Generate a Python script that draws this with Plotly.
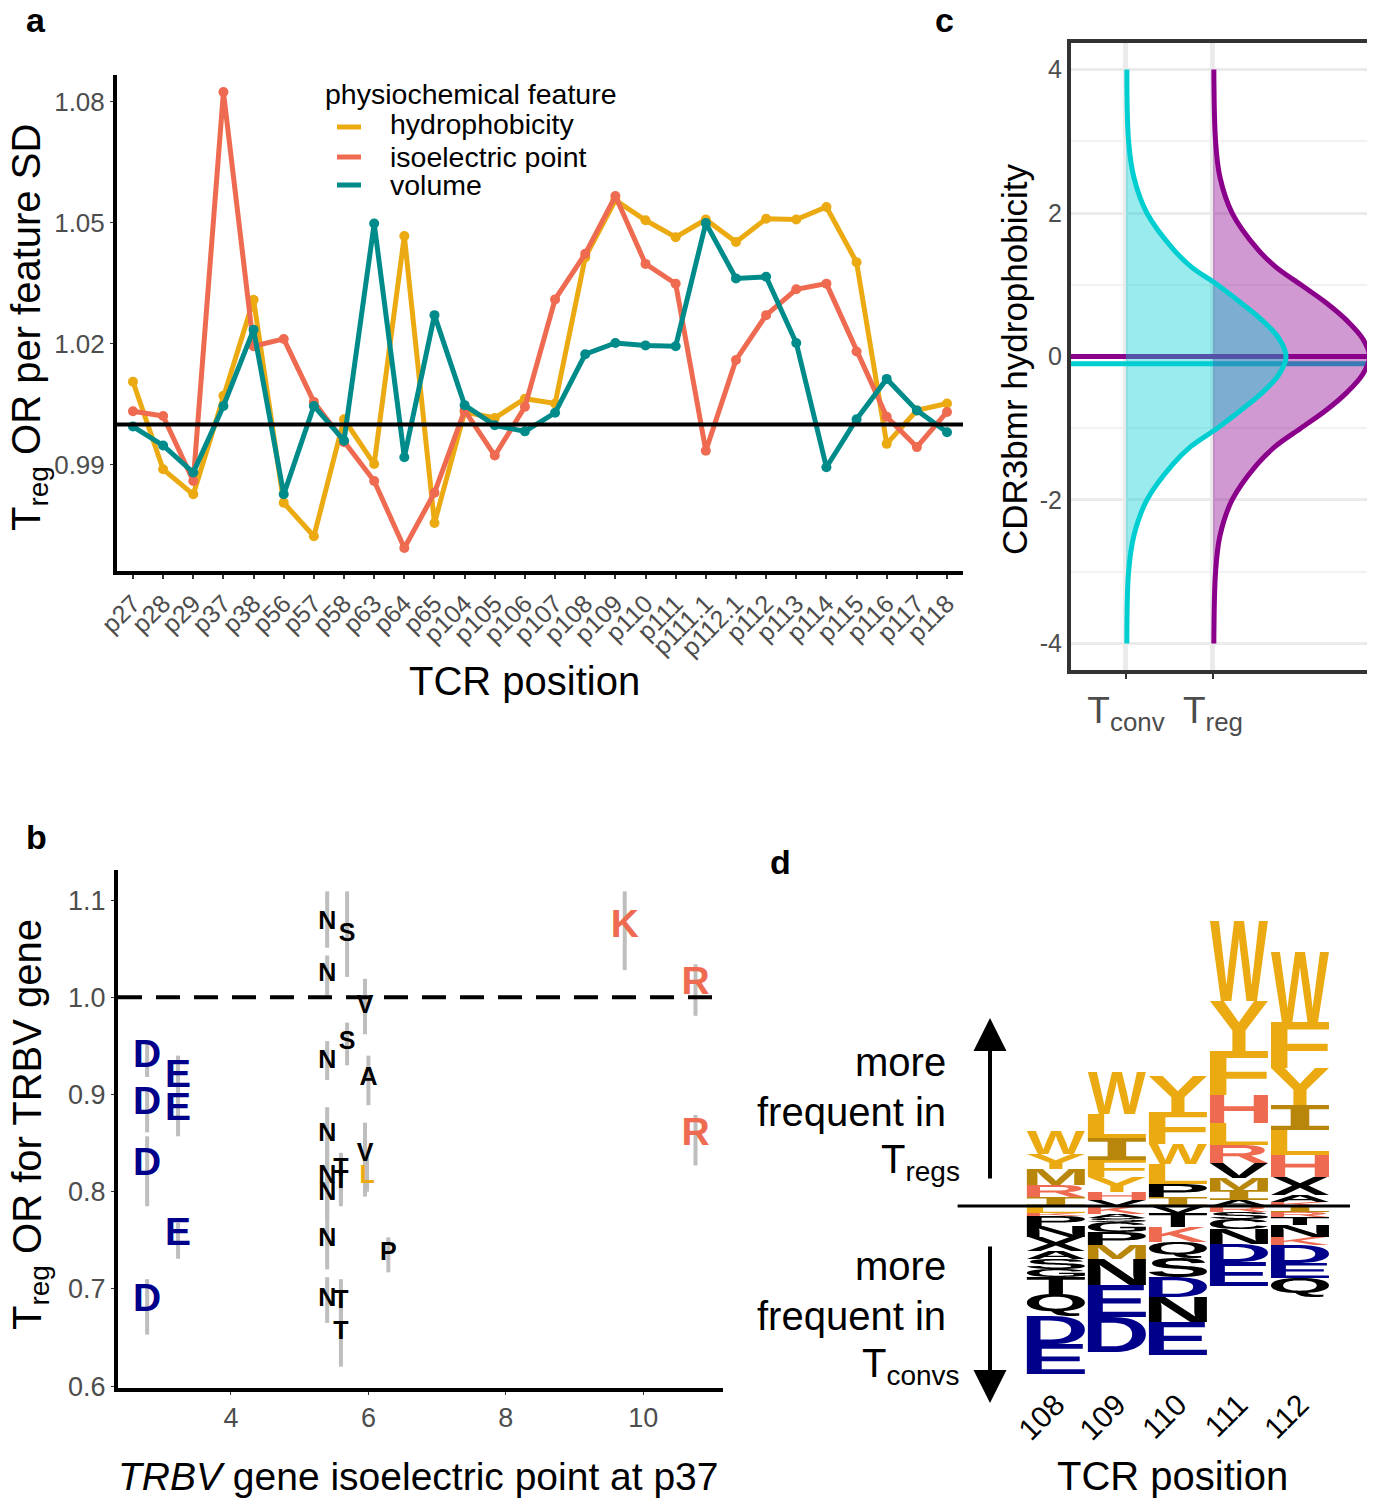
import glob
import struct

import numpy as np
import plotly.graph_objects as go

FONT = "Liberation Sans, Arial, sans-serif"
GRAY = "#4d4d4d"
YEL, RED, TEAL = "#EBAA12", "#EE6A50", "#008B8B"
GOLD, NAVY = "#B8860B", "#00008B"
CYAN, PURPLE = "#00CED1", "#8B008B"

# ---- panel a: OR per feature SD along TCR positions
positions = ["p27", "p28", "p29", "p37", "p38", "p56", "p57", "p58", "p63", "p64",
             "p65", "p104", "p105", "p106", "p107", "p108", "p109", "p110", "p111",
             "p111.1", "p112.1", "p112", "p113", "p114", "p115", "p116", "p117", "p118"]
hydrophobicity = [1.0106, 0.9889, 0.9827, 1.0071, 1.0309, 0.9806, 0.9723, 1.0013, 0.9902,
                  1.0467, 0.9756, 1.0031, 1.0016, 1.0064, 1.0052, 1.0414, 1.0556, 1.0506,
                  1.0464, 1.0508, 1.0452, 1.0510, 1.0508, 1.0539, 1.0402, 0.9952, 1.0035,
                  1.0052]
isoelectric = [1.0033, 1.0021, 0.9860, 1.0824, 1.0194, 1.0212, 1.0056, 0.9956, 0.9860,
               0.9694, 0.9831, 1.0035, 0.9923, 1.0044, 1.0310, 1.0423, 1.0566, 1.0398,
               1.0349, 0.9935, 1.0160, 1.0271, 1.0335, 1.0349, 1.0181, 1.0019, 0.9944,
               1.0031]
volume = [0.9995, 0.9948, 0.9881, 1.0046, 1.0235, 0.9827, 1.0046, 0.9960, 1.0498, 0.9919,
          1.0271, 1.0048, 0.9998, 0.9983, 1.0029, 1.0174, 1.0202, 1.0196, 1.0194, 1.0499,
          1.0362, 1.0366, 1.0202, 0.9894, 1.0013, 1.0113, 1.0035, 0.9981]
features = ["hydrophobicity", "isoelectric point", "volume"]

# ---- panel b: TRBV gene OR vs isoelectric point at p37
b_residue = ["D", "D", "D", "D", "E", "E", "E",
             "N", "N", "N", "N", "N", "N", "N", "N",
             "S", "S", "V", "V", "A", "L", "T", "T", "T", "T", "P", "K", "R", "R"]
b_pi = [2.78, 2.78, 2.78, 2.78, 3.23, 3.23, 3.23,
        5.40, 5.40, 5.40, 5.40, 5.40, 5.40, 5.40, 5.40,
        5.69, 5.69, 5.95, 5.95, 6.00, 5.98, 5.60, 5.60, 5.60, 5.60, 6.29, 9.73, 10.76, 10.76]
b_or = [0.938, 0.890, 0.827, 0.687, 0.918, 0.884, 0.755,
        1.077, 1.023, 0.934, 0.859, 0.815, 0.798, 0.751, 0.689,
        1.064, 0.953, 0.990, 0.838, 0.916, 0.815, 0.823, 0.810, 0.687, 0.655, 0.736, 1.072,
        1.013, 0.858]
b_lo = [0.918, 0.861, 0.785, 0.653, 0.896, 0.857, 0.731,
        1.051, 1.002, 0.915, 0.827, 0.780, 0.770, 0.720, 0.665,
        1.021, 0.930, 0.962, 0.795, 0.889, 0.800, 0.790, 0.785, 0.660, 0.620, 0.717, 1.028,
        0.981, 0.827]
b_hi = [0.953, 0.906, 0.857, 0.710, 0.940, 0.904, 0.768,
        1.109, 1.043, 0.955, 0.887, 0.850, 0.830, 0.790, 0.712,
        1.109, 0.974, 1.019, 0.871, 0.940, 0.835, 0.840, 0.830, 0.710, 0.690, 0.753, 1.109,
        1.034, 0.879]

# ---- panel c: CDR3bmr hydrophobicity densities
hyd_levels = [-4, -3, -2.5, -2, -1.5, -1.25, -1, -0.75, -0.5, -0.25, 0,
              0.25, 0.5, 0.75, 1, 1.25, 1.5, 2, 2.5, 3, 4]
conv_density = [0.01, 0.03, 0.09, 0.24, 0.54, 0.75, 1.05, 1.32, 1.57, 1.76, 1.84,
                1.76, 1.57, 1.32, 1.05, 0.75, 0.54, 0.24, 0.09, 0.03, 0.01]
treg_density = [0.01, 0.03, 0.08, 0.22, 0.51, 0.72, 1.01, 1.30, 1.54, 1.72, 1.80,
                1.72, 1.54, 1.30, 1.01, 0.72, 0.51, 0.22, 0.08, 0.03, 0.01]
conv_mean, treg_mean = -0.1, 0.0

# ---- panel d: sequence logo (enriched in Tregs up, Tconvs down)
logo_positions = [108, 109, 110, 111, 112]
up_letters = [["I", "R", "M", "Y", "W"],
              ["V", "H", "Y", "F", "I", "L", "W"],
              ["I", "P", "L", "W", "F", "Y"],
              ["A", "I", "M", "V", "R", "L", "H", "F", "Y", "W"],
              ["K", "A", "X", "H", "L", "I", "Y", "F", "W"]]
up_heights = [[0.09, 0.12, 0.16, 0.15, 0.23],
              [0.06, 0.08, 0.15, 0.17, 0.22, 0.24, 0.42],
              [0.09, 0.13, 0.20, 0.20, 0.32, 0.36],
              [0.06, 0.10, 0.12, 0.15, 0.18, 0.22, 0.28, 0.44, 0.50, 0.80],
              [0.04, 0.07, 0.18, 0.22, 0.25, 0.25, 0.37, 0.46, 0.70]]
down_letters = [["L", "K", "P", "N", "X", "A", "S", "G", "T", "Q", "D", "E"],
                ["K", "A", "S", "G", "P", "M", "N", "E", "D"],
                ["V", "T", "K", "Q", "S", "D", "N", "E"],
                ["R", "S", "C", "N", "D", "E"],
                ["I", "R", "T", "N", "K", "D", "E", "Q"]]
down_heights = [[0.07, 0.03, 0.10, 0.11, 0.14, 0.08, 0.10, 0.08, 0.17, 0.22, 0.28, 0.30],
                [0.08, 0.04, 0.04, 0.10, 0.13, 0.14, 0.26, 0.32, 0.35],
                [0.07, 0.14, 0.15, 0.16, 0.19, 0.20, 0.25, 0.33],
                [0.06, 0.07, 0.10, 0.15, 0.18, 0.24],
                [0.06, 0.05, 0.08, 0.12, 0.08, 0.18, 0.15, 0.19]]

aa_colour = {}
for aa in "WYFL":
    aa_colour[aa] = YEL
for aa in "MI":
    aa_colour[aa] = GOLD
for aa in "RHK":
    aa_colour[aa] = RED
for aa in "DE":
    aa_colour[aa] = NAVY


# glyph outlines read straight from an installed TrueType font
def flatten(pts, steps=5):
    full = []
    m = len(pts)
    for i in range(m):
        a, b = pts[i], pts[(i + 1) % m]
        full.append(a)
        if not a[2] and not b[2]:
            full.append(((a[0] + b[0]) / 2, (a[1] + b[1]) / 2, 1))
    k = next(i for i, q in enumerate(full) if q[2])
    full = full[k:] + full[:k]
    out = [full[0][:2]]
    i, m = 0, len(full)
    while i < m:
        a, b = full[i], full[(i + 1) % m]
        if b[2]:
            out.append(b[:2])
            i += 1
        else:
            c = full[(i + 2) % m]
            for t in np.linspace(0, 1, steps + 1)[1:]:
                out.append(((1 - t) ** 2 * a[0] + 2 * (1 - t) * t * b[0] + t * t * c[0],
                            (1 - t) ** 2 * a[1] + 2 * (1 - t) * t * b[1] + t * t * c[1]))
            i += 2
    return out


class GlyphFont:
    def __init__(self, path):
        d = open(path, "rb").read()
        self.d = d
        ntab = struct.unpack(">H", d[4:6])[0]
        self.tab = {}
        for i in range(ntab):
            tag, _, off, _ = struct.unpack(">4sIII", d[12 + 16 * i:28 + 16 * i])
            self.tab[tag.decode("latin-1")] = off
        head = self.tab["head"]
        self.long_loca = struct.unpack(">h", d[head + 50:head + 52])[0] == 1
        self.cmap = self.read_cmap()

    def read_cmap(self):
        d = self.d
        base = self.tab["cmap"]
        nsub = struct.unpack(">H", d[base + 2:base + 4])[0]
        for i in range(nsub):
            _, _, off = struct.unpack(">HHI", d[base + 4 + 8 * i:base + 12 + 8 * i])
            st = base + off
            if struct.unpack(">H", d[st:st + 2])[0] != 4:
                continue
            seg2 = struct.unpack(">H", d[st + 6:st + 8])[0]
            seg = seg2 // 2
            ends = struct.unpack(">%dH" % seg, d[st + 14:st + 14 + seg2])
            starts = struct.unpack(">%dH" % seg, d[st + 16 + seg2:st + 16 + 2 * seg2])
            deltas = struct.unpack(">%dh" % seg, d[st + 16 + 2 * seg2:st + 16 + 3 * seg2])
            ro_at = st + 16 + 3 * seg2
            ros = struct.unpack(">%dH" % seg, d[ro_at:ro_at + seg2])
            table = {}
            for k in range(seg):
                for c in range(starts[k], min(ends[k], 0x7F) + 1):
                    if ros[k] == 0:
                        g = (c + deltas[k]) & 0xFFFF
                    else:
                        a = ro_at + 2 * k + ros[k] + 2 * (c - starts[k])
                        g = struct.unpack(">H", d[a:a + 2])[0]
                        g = (g + deltas[k]) & 0xFFFF if g else 0
                    table[chr(c)] = g
            return table
        return {}

    def outline(self, ch):
        d = self.d
        gid = self.cmap[ch]
        loca, glyf = self.tab["loca"], self.tab["glyf"]
        if self.long_loca:
            o1 = struct.unpack(">I", d[loca + 4 * gid:loca + 4 * gid + 4])[0]
        else:
            o1 = 2 * struct.unpack(">H", d[loca + 2 * gid:loca + 2 * gid + 2])[0]
        p = glyf + o1
        nc, x0, y0, x1, y1 = struct.unpack(">hhhhh", d[p:p + 10])
        if nc <= 0:
            raise ValueError("composite glyph")
        p += 10
        ends = struct.unpack(">%dH" % nc, d[p:p + 2 * nc])
        p += 2 * nc
        p += 2 + struct.unpack(">H", d[p:p + 2])[0]
        n = ends[-1] + 1
        flags = []
        while len(flags) < n:
            f = d[p]
            p += 1
            flags.append(f)
            if f & 8:
                flags += [f] * d[p]
                p += 1
        flags = flags[:n]
        coords = []
        for short, same in ((2, 16), (4, 32)):
            v, vals = 0, []
            for f in flags:
                if f & short:
                    v += d[p] if f & same else -d[p]
                    p += 1
                elif not f & same:
                    v += struct.unpack(">h", d[p:p + 2])[0]
                    p += 2
                vals.append(v)
            coords.append(vals)
        xs, ys = coords
        contours, s = [], 0
        for e in ends:
            contours.append(flatten([(xs[i], ys[i], flags[i] & 1) for i in range(s, e + 1)]))
            s = e + 1
        return (x0, y0, x1, y1), contours


def load_font(patterns):
    for pat in patterns:
        for hit in sorted(glob.glob(pat, recursive=True)):
            try:
                return GlyphFont(hit)
            except Exception:
                pass
    return None


sans_bold = load_font(["/usr/share/fonts/**/LiberationSans-Bold.ttf",
                       "/usr/share/fonts/**/DejaVuSans-Bold.ttf"])
mono_bold = load_font(["/usr/share/fonts/**/LiberationMono-Bold.ttf",
                       "/usr/share/fonts/**/DejaVuSansMono-Bold.ttf"])


def letter_path(ch, x0, x1, y0, y1):
    font = mono_bold if ch == "I" and mono_bold else sans_bold
    try:
        (gx0, gy0, gx1, gy1), contours = font.outline(ch)
    except Exception:
        return "M%f,%fL%f,%fL%f,%fL%f,%fZ" % (x0, y0, x1, y0, x1, y1, x0, y1)
    sx = (x1 - x0) / (gx1 - gx0)
    sy = (y1 - y0) / (gy1 - gy0)
    parts = []
    for c in contours:
        pts = ["%.4f,%.4f" % (x0 + (gx - gx0) * sx, y0 + (gy - gy0) * sy) for gx, gy in c]
        parts.append("M" + "L".join(pts) + "Z")
    return "".join(parts)


# the page puts the figure 8 px in from the top-left corner
W, H, OFF = 1367, 1492, 8


def px(x):
    return (x - OFF) / W


def py(y):
    return 1 - (y - OFF) / H


fig = go.Figure()

# panel a
for name, vals, col in zip(features, [hydrophobicity, isoelectric, volume], [YEL, RED, TEAL]):
    fig.add_trace(go.Scatter(x=positions, y=vals, mode="lines+markers", name=name,
                             line=dict(color=col, width=5), marker=dict(color=col, size=10),
                             xaxis="x", yaxis="y"))

# panel b
fig.add_trace(go.Scatter(
    x=b_pi, y=b_or, mode="markers", marker=dict(opacity=0),
    error_y=dict(type="data", symmetric=False,
                 array=[h - v for h, v in zip(b_hi, b_or)],
                 arrayminus=[v - l for l, v in zip(b_lo, b_or)],
                 color="#BEBEBE", thickness=4, width=0),
    xaxis="x2", yaxis="y2"))
b_colour = [aa_colour.get(r, "black") for r in b_residue]
b_size = [39 if r in "DEKR" else 25 for r in b_residue]
fig.add_trace(go.Scatter(
    x=b_pi, y=b_or, mode="text", text=["<b>%s</b>" % r for r in b_residue],
    textposition="middle center",
    textfont=dict(family=FONT, size=b_size, color=b_colour),
    xaxis="x2", yaxis="y2"))

# panel c: mean lines, then densities
C_RANGE = [0.368, 3.828]
for m, col in [(conv_mean, CYAN), (treg_mean, PURPLE)]:
    fig.add_trace(go.Scatter(x=C_RANGE, y=[m, m], mode="lines",
                             line=dict(color=col, width=5), xaxis="x3", yaxis="y3"))
for base, dens, col, fill in [(2, treg_density, PURPLE, "rgba(139,0,139,0.4)"),
                              (1, conv_density, CYAN, "rgba(0,206,209,0.4)")]:
    fig.add_trace(go.Scatter(x=[base] * len(hyd_levels), y=hyd_levels, mode="lines",
                             line=dict(width=0), xaxis="x3", yaxis="y3"))
    fig.add_trace(go.Scatter(x=[base + w for w in dens], y=hyd_levels, mode="lines",
                             line=dict(color=col, width=5, shape="spline"),
                             fill="tonextx", fillcolor=fill, xaxis="x3", yaxis="y3"))

shapes = []
# reference lines in a and b
shapes.append(dict(type="line", xref="x domain", yref="y", x0=0, x1=1, y0=1, y1=1,
                   line=dict(color="black", width=4)))
shapes.append(dict(type="line", xref="x2 domain", yref="y2", x0=0, x1=1, y0=1, y1=1,
                   line=dict(color="black", width=4, dash="24px,14px")))

# panel d logo
for pos, lets, hts in zip(logo_positions, up_letters, up_heights):
    cum = 0.0
    for ch, h in zip(lets, hts):
        shapes.append(dict(type="path", xref="x4", yref="y4",
                           path=letter_path(ch, pos - 0.475, pos + 0.475, cum, cum + h),
                           fillcolor=aa_colour.get(ch, "black"), fillrule="evenodd",
                           line=dict(width=0)))
        cum += h
for pos, lets, hts in zip(logo_positions, down_letters, down_heights):
    cum = 0.0
    for ch, h in zip(lets, hts):
        shapes.append(dict(type="path", xref="x4", yref="y4",
                           path=letter_path(ch, pos - 0.475, pos + 0.475, -cum - h, -cum),
                           fillcolor=aa_colour.get(ch, "black"), fillrule="evenodd",
                           line=dict(width=0)))
        cum += h
shapes.append(dict(type="line", xref="x4", yref="y4", x0=106.39, x1=112.82, y0=0, y1=0,
                   line=dict(color="black", width=3)))

# legend keys for panel a
for yy, col in zip([127, 157, 185], [YEL, RED, TEAL]):
    shapes.append(dict(type="line", xref="paper", yref="paper", x0=px(337), x1=px(361),
                       y0=py(yy), y1=py(yy), line=dict(color=col, width=5)))

ann = []


def text(x, y, s, size=40, color="black", xanchor="center", angle=0, bold=False):
    ann.append(dict(x=px(x), y=py(y), xref="paper", yref="paper", text=s, showarrow=False,
                    xanchor=xanchor, yanchor="middle", textangle=angle,
                    font=dict(family=FONT, size=size, color=color,
                              weight="bold" if bold else "normal")))


text(323, 94, "physiochemical feature", 28.5, xanchor="left")
for yy, s in zip([124, 157, 185], features):
    text(388, yy, s, 28.5, xanchor="left")

text(36, 20, "a", 34, bold=True)
text(944, 20, "c", 34, bold=True)
text(36, 837, "b", 34, bold=True)
text(780, 862, "d", 34, bold=True)

text(29, 328, "T<sub>reg</sub> OR per feature SD", 40, angle=-90)
text(524, 681, "TCR position", 40)
text(30, 1125, "T<sub>reg</sub> OR for TRBV gene", 40, angle=-90)
text(418, 1476, "<i>TRBV</i> gene isoelectric point at p37", 39)
text(1015, 360, "CDR3bmr hydrophobicity", 35, angle=-90)
text(1172, 1476, "TCR position", 40)

text(948, 1062, "more", 40, xanchor="right")
text(948, 1112, "frequent in", 40, xanchor="right")
text(962, 1162, "T<sub>regs</sub>", 40, xanchor="right")
text(948, 1266, "more", 40, xanchor="right")
text(948, 1316, "frequent in", 40, xanchor="right")
text(962, 1366, "T<sub>convs</sub>", 40, xanchor="right")

for tip, tail in [(1018, 1180), (1403, 1245)]:
    ann.append(dict(x=px(990), y=py(tip), xref="paper", yref="paper", text="",
                    showarrow=True, ax=0, ay=tail - tip, arrowhead=2, arrowsize=1.65,
                    arrowwidth=4, arrowcolor="black"))

tick_font = dict(family=FONT, size=27, color=GRAY)
fig.update_layout(
    width=W, height=H, margin=dict(l=0, r=0, t=0, b=0, autoexpand=False),
    paper_bgcolor="white", plot_bgcolor="white", showlegend=False,
    font=dict(family=FONT),
    xaxis=dict(domain=[px(117), px(963)], anchor="y", type="category", automargin=False,
               range=[-0.53, 27.53], tickmode="array", tickvals=positions,
               ticktext=positions, showline=True, linecolor="black", linewidth=4,
               ticks="outside", ticklen=4, tickwidth=2, tickcolor="#333333",
               tickangle=-45, tickfont=dict(family=FONT, size=25, color=GRAY),
               showgrid=False, zeroline=False),
    yaxis=dict(domain=[py(571), py(75)], anchor="x", range=[0.9637, 1.0866], automargin=False,
               tickvals=[0.99, 1.02, 1.05, 1.08], ticktext=["0.99", "1.02", "1.05", "1.08"],
               showline=True, linecolor="black", linewidth=4, ticks="outside", ticklen=3,
               tickcolor="#333333", tickfont=dict(family=FONT, size=26, color=GRAY),
               showgrid=False, zeroline=False),
    xaxis2=dict(domain=[px(118), px(723)], anchor="y2", range=[2.356, 11.16], automargin=False,
                tickvals=[4, 6, 8, 10], showline=True, linecolor="black", linewidth=4,
                ticks="outside", ticklen=3, tickcolor="#333333", tickfont=tick_font,
                showgrid=False, zeroline=False),
    yaxis2=dict(domain=[py(1388), py(870)], anchor="x2", range=[0.598, 1.131],
                automargin=False,
                tickvals=[0.6, 0.7, 0.8, 0.9, 1.0, 1.1], tickformat=".1f",
                showline=True, linecolor="black", linewidth=4, ticks="outside", ticklen=3,
                tickcolor="#333333", tickfont=tick_font, showgrid=False, zeroline=False),
    xaxis3=dict(domain=[px(1071), px(1372)], anchor="y3", range=C_RANGE, automargin=False,
                tickvals=[1, 2], ticktext=["T<sub>conv</sub>", "T<sub>reg</sub>"],
                tickfont=dict(family=FONT, size=37, color=GRAY),
                showline=True, mirror=True, linecolor="#333333", linewidth=4,
                ticks="outside", ticklen=5, tickwidth=2, tickcolor="#333333",
                showgrid=True, gridcolor="#EBEBEB", gridwidth=5, zeroline=False),
    yaxis3=dict(domain=[py(670), py(43)], anchor="x3", range=[-4.37, 4.37], automargin=False,
                tickvals=[-4, -2, 0, 2, 4], ticktext=["-4", "-2", "0", "2", "4"],
                tickfont=dict(family=FONT, size=25, color=GRAY),
                showline=True, mirror=True, linecolor="#333333", linewidth=4,
                ticks="", showgrid=True, gridcolor="#EBEBEB", gridwidth=3, zeroline=False,
                minor=dict(tickvals=[-3, -1, 1, 3], showgrid=True, gridcolor="#F2F2F2",
                           gridwidth=1.5)),
    xaxis4=dict(domain=[px(946), px(1361)], anchor="y4", range=[106.2, 113.0],
                automargin=False,
                tickvals=logo_positions, ticktext=[str(p) for p in logo_positions],
                tickangle=-45, tickfont=dict(family=FONT, size=30, color="black"),
                showline=False, showgrid=False, zeroline=False, ticks=""),
    yaxis4=dict(domain=[py(1380), py(900)], anchor="x4", range=[-1.74, 3.06],
                automargin=False, visible=False),
    shapes=shapes, annotations=ann,
)

fig.write_html("out.html")
